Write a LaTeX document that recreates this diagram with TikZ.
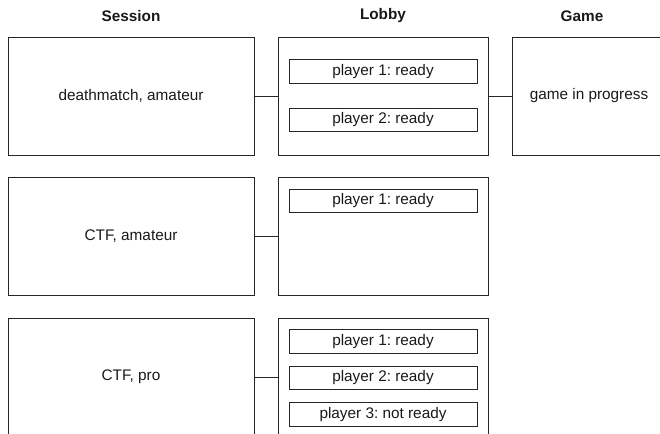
\documentclass[tikz,border=0pt]{standalone}
\usepackage{fontspec}
\setmainfont{Liberation Sans}
\usetikzlibrary{positioning}
\frenchspacing

\tikzset{
  boxline/.style={draw=black!85, line width=0.75pt},
  sessionbox/.style={boxline, minimum width=184.5pt, minimum height=88.5pt, inner sep=0pt},
  lobbybox/.style={boxline, minimum width=157.5pt, minimum height=88.5pt, inner sep=0pt},
  gamebox/.style={boxline, minimum width=115.5pt, minimum height=88.5pt, inner sep=0pt},
  playerbox/.style={boxline, minimum width=141pt, minimum height=17.6pt, inner sep=0pt},
  header/.style={font=\fontsize{11.5}{13}\selectfont\bfseries},
  link/.style={draw=black!85, line width=0.75pt}
}

\begin{document}
\begin{tikzpicture}[x=0.75pt,y=-0.75pt,font=\fontsize{11.5}{13}\selectfont,text=black!90]
        \clip (0,0) rectangle (660,433);

        % column headers
        \node[header] (hsession) at (131,16) {Session};
        \node[header] (hlobby) at (383,16) {Lobby};
        \node[header] (hgame) at (582,16) {Game};

        % first row
        \node[sessionbox] (s1) at (131,96) {deathmatch, amateur};
        \node[lobbybox] (l1) at (383,96) {};
        \node[gamebox] (g1) at (589,96) {game in progress};
        \node[playerbox] (p11) at (383,71.5) {player 1: ready};
        \node[playerbox, below=18pt of p11] (p12) {player 2: ready};
        \draw[link] (s1) -- (l1);
        \draw[link] (l1) -- (g1);

        % second row
        \node[sessionbox] (s2) at (131,236.5) {CTF, amateur};
        \node[lobbybox] (l2) at (383,236.5) {};
        \node[playerbox] (p21) at (383,201) {player 1: ready};
        \draw[link] (s2) -- (l2);

        % third row
        \node[sessionbox] (s3) at (131,377) {CTF, pro};
        \node[lobbybox] (l3) at (383,377) {};
        \node[playerbox] (p31) at (383,341.5) {player 1: ready};
        \node[playerbox, below=9pt of p31] (p32) {player 2: ready};
        \node[playerbox, below=9pt of p32] (p33) {player 3: not ready};
        \draw[link] (s3) -- (l3);

\end{tikzpicture}
\end{document}
